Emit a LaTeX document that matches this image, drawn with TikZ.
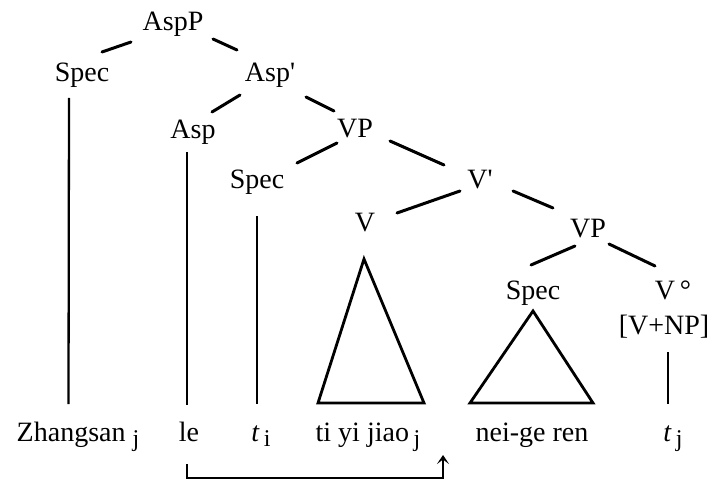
\documentclass[tikz,border=0pt]{standalone}
\usepackage{fontspec}
\setmainfont{Liberation Serif}
\usetikzlibrary{arrows.meta}
\newcommand{\sbx}[1]{\raisebox{-5pt}{\fontsize{24}{24}\selectfont #1}}
\begin{document}
\begin{tikzpicture}[x=1pt,y=-1pt,
  lab/.style={inner sep=0pt, anchor=base, font=\fontsize{28}{33}\selectfont},
  br/.style={line width=3pt, line cap=round},
  vl/.style={line width=2.3pt},
  tri/.style={line width=2.8pt, line join=miter},
  mv/.style={line width=2.2pt},
]
\useasboundingbox (0,0) rectangle (718,484);
% tree labels
\node[lab] (AspP)  at (173,31)  {AspP};
\node[lab] (Spec1) at (82,82)   {Spec};
\node[lab] (AspB)  at (270,82)  {Asp\textquotesingle};
\node[lab] (Asp)   at (193,139) {Asp};
\node[lab] (VP1)   at (355,138) {VP};
\node[lab] (Spec2) at (257,189) {Spec};
\node[lab] (VB)    at (480,189) {V\textquotesingle};
\node[lab] (V)     at (365,231) {V};
\node[lab] (VP2)   at (588,237) {VP};
\node[lab] (Spec3) at (533,299) {Spec};
\node[lab] (Vo)    at (673,299) {V\,°};
\node[lab] (VNP)   at (664,334) {[V+NP]};
% terminals
\node[lab] (zh)  at (78,441)  {Zhangsan \sbx{j}};
\node[lab] (le)  at (189,441) {le};
\node[lab] (ti)  at (261,441) {{\itshape t}\,\sbx{i}};
\node[lab] (tyj) at (368,441) {ti yi jiao\,\sbx{j}};
\node[lab] (ngr) at (532,441) {nei-ge ren};
\node[lab] (tj)  at (673,441) {{\itshape t}\,\sbx{j}};
% branches
\draw[br] ([shift={(-42,11)}]AspP.base) -- ([shift={(20,-30)}]Spec1.base);
\draw[br] ([shift={(40,8)}]AspP.base) -- ([shift={(-33,-32)}]AspB.base);
\draw[br] ([shift={(-30,13)}]AspB.base) -- ([shift={(19,-27)}]Asp.base);
\draw[br] ([shift={(36,15)}]AspB.base) -- ([shift={(-21,-27)}]VP1.base);
\draw[br] ([shift={(-18,5)}]VP1.base) -- ([shift={(40,-26)}]Spec2.base);
\draw[br] ([shift={(35,3)}]VP1.base) -- ([shift={(-36,-24)}]VB.base);
\draw[br] ([shift={(-20,2)}]VB.base) -- ([shift={(32,-18)}]V.base);
\draw[br] ([shift={(33,2)}]VB.base) -- ([shift={(-35,-29)}]VP2.base);
\draw[br] ([shift={(-13,9)}]VP2.base) -- ([shift={(-2,-34)}]Spec3.base);
\draw[br] ([shift={(21,7)}]VP2.base) -- ([shift={(-18,-33)}]Vo.base);
% vertical lines
\draw[vl] ([shift={(-13,16)}]Spec1.base) -- ([shift={(-9.5,-37)}]zh.base);
\draw[vl] ([shift={(-6,13)}]Asp.base) -- ([shift={(-2,-36)}]le.base);
\draw[vl] ([shift={(0,27)}]Spec2.base) -- ([shift={(-4,-37)}]ti.base);
\draw[vl] ([shift={(4,18)}]VNP.base) -- ([shift={(-5,-37)}]tj.base);
% triangles
\draw[tri] ([shift={(-1,28)}]V.base) -- ([shift={(56,-38)}]tyj.base) -- ([shift={(-50,-38)}]tyj.base) -- cycle;
\draw[tri] ([shift={(0,12)}]Spec3.base) -- ([shift={(61,-38)}]ngr.base) -- ([shift={(-62,-38)}]ngr.base) -- cycle;
% movement arrow
\coordinate (land) at ([shift={(75,14)}]tyj.base);
\draw[mv, -{Stealth[length=9pt,width=12pt,inset=4.5pt]}]
  ([shift={(-2,23)}]le.base) |- ([shift={(0,23)}]land) -- (land);
\end{tikzpicture}
\end{document}
